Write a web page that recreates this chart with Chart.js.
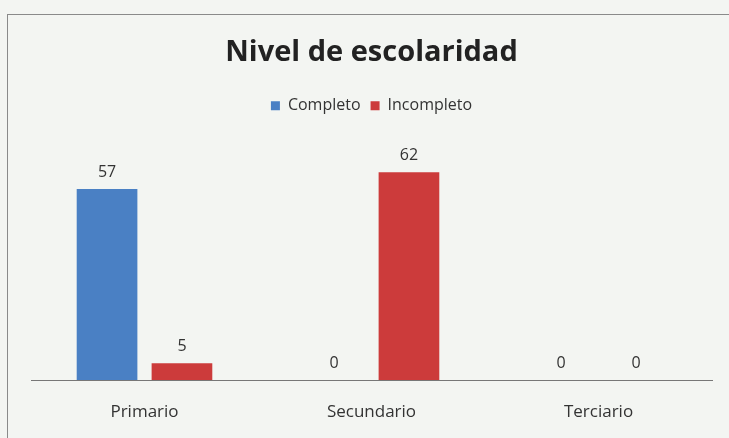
<!DOCTYPE html>
<html>
<head>
<meta charset="utf-8">
<script src="https://cdn.jsdelivr.net/npm/chart.js@4"></script>
<style>
  html, body { margin: 0; padding: 0; background: #f3f5f2; }
  #wrap { position: relative; width: 729px; height: 438px; overflow: hidden; }
  #frame { position: absolute; left: 7px; top: 14px; width: 740px; height: 440px;
           border: 1px solid #8a8a8a; box-sizing: border-box; }
  canvas { position: absolute; left: 0; top: 0; }
</style>
</head>
<body>
<div id="wrap">
  <div id="frame"></div>
  <canvas id="chart" width="729" height="438"></canvas>
</div>
<script>
// datos
const categorias = ['Primario', 'Secundario', 'Terciario'];
const completo = [57, 0, 0];
const incompleto = [5, 62, 0];

const FONT = '"Open Sans", sans-serif';

// etiquetas encima de cada barra
const valueLabels = {
  id: 'valueLabels',
  afterDatasetsDraw(chart) {
    const ctx = chart.ctx;
    ctx.save();
    ctx.font = '16px ' + FONT;
    ctx.fillStyle = '#333';
    ctx.textAlign = 'center';
    ctx.textBaseline = 'bottom';
    chart.data.datasets.forEach((ds, i) => {
      chart.getDatasetMeta(i).data.forEach((bar, j) => {
        ctx.fillText(ds.data[j], bar.x, bar.y - 9);
      });
    });
    ctx.restore();
  }
};

new Chart(document.getElementById('chart'), {
  type: 'bar',
  data: {
    labels: categorias,
    datasets: [
      { label: 'Completo', data: completo, backgroundColor: '#4a80c4' },
      { label: 'Incompleto', data: incompleto, backgroundColor: '#cc3b3b' }
    ]
  },
  options: {
    responsive: false,
    animation: false,
    layout: { padding: { left: 31, right: 17, top: 0, bottom: 18 } },
    datasets: { bar: { categoryPercentage: 0.66, barPercentage: 0.81 } },
    scales: {
      x: {
        grid: { display: false, drawTicks: false },
        border: { display: true, color: '#777', width: 1 },
        ticks: { padding: 22, color: '#333', font: { family: FONT, size: 17 } },
        afterFit(scale) { scale.height = 40; }
      },
      y: { display: false, min: 0, max: 76.5 }
    },
    plugins: {
      title: {
        display: true,
        text: 'Nivel de escolaridad',
        color: '#222',
        font: { family: FONT, size: 29, weight: 'bold' },
        padding: { top: 35, bottom: 18 }
      },
      legend: {
        labels: {
          boxWidth: 9, boxHeight: 9,
          color: '#333',
          font: { family: FONT, size: 16 }
        }
      },
      tooltip: { enabled: false }
    }
  },
  plugins: [valueLabels]
});
</script>
</body>
</html>
